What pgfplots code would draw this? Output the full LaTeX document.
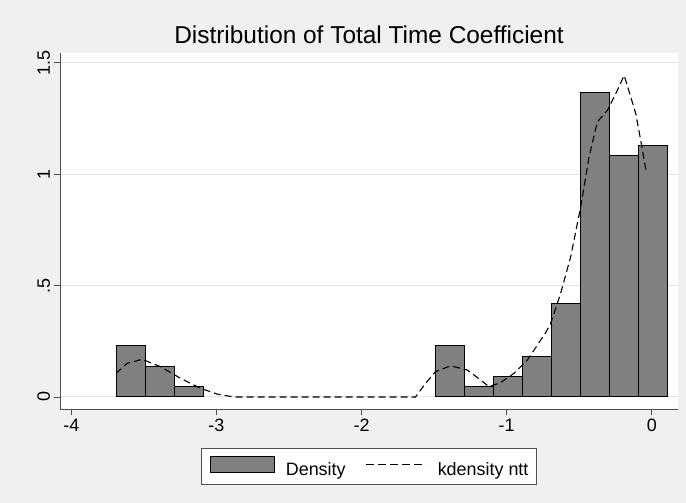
\documentclass[border=0pt]{standalone}
\usepackage{fontspec}
\setmainfont{Liberation Sans}
\usepackage{pgfplots}
\pgfplotsset{compat=1.18}
\definecolor{bgc}{RGB}{240,240,240}
\definecolor{barfill}{RGB}{128,128,128}
\definecolor{gridc}{RGB}{228,228,228}
\definecolor{axisc}{RGB}{80,80,80}
\begin{document}
\begin{tikzpicture}[x=1bp,y=1bp]
\useasboundingbox (0,0) rectangle (686,503);
\fill[bgc] (0,0) rectangle (686,503);
\node[anchor=base, font=\fontsize{24.5}{28}\selectfont] at (369,459.7) {Distribution of Total Time Coefficient};
\begin{axis}[
  at={(60bp,94bp)}, anchor=south west,
  scale only axis, width=618.3bp, height=356.3bp,
  xmin=-4.078, xmax=0.183, ymin=-0.054, ymax=1.546,
  axis x line*=bottom, axis y line*=left,
  axis line style={axisc, line width=0.9bp, -},
  axis background/.style={fill=white},
  xtick={-4,-3,-2,-1,0}, xticklabels={-4,-3,-2,-1,0},
  ytick={0,0.5,1,1.5}, yticklabels={0,.5,1,1.5},
  tick align=outside, major tick length=6.5bp,
  tick style={axisc, line width=0.9bp},
  ticklabel style={font=\fontsize{18}{20}\selectfont},
  yticklabel style={rotate=90, anchor=south},
  ymajorgrids, major grid style={gridc, line width=1bp},
  legend columns=2,
  legend cell align=left,
  legend style={at={(0.5,-0.1103)}, anchor=north, draw=axisc, fill=white,
    line width=0.8bp, inner xsep=8bp, inner ysep=7bp,
    font=\fontsize{18}{20}\selectfont,
    nodes={inner sep=0pt},
    /tikz/every odd column/.append style={column sep=11bp},
    /tikz/column 2/.style={column sep=20bp},
    /tikz/column 3/.style={column sep=23bp}},
]
\addplot[ybar interval, fill=barfill, draw=black, line width=1bp,
  legend image code/.code={\draw[fill=barfill, draw=black, line width=1bp] (0bp,-2bp) rectangle (64bp,14bp);}]
  coordinates {(-3.69,0.229) (-3.49,0.137) (-3.29,0.045) (-3.09,0)};
\addlegendentry{Density}
\addplot[ybar interval, fill=barfill, draw=black, line width=1bp, forget plot]
  coordinates {(-1.49,0.229) (-1.29,0.045) (-1.09,0.091) (-0.89,0.183) (-0.69,0.418) (-0.49,1.365) (-0.29,1.083) (-0.09,1.128) (0.11,0)};
\addplot[black, line width=1.1bp, dash pattern=on 7bp off 4bp, mark=none,
  legend image code/.code={\draw[black, line width=1.1bp, dash pattern=on 8bp off 4bp] (0bp,6bp) -- (60bp,6bp);}]
  coordinates {
  (-3.692,0.106) (-3.616,0.151) (-3.512,0.169) (-3.386,0.136) (-3.248,0.084)
  (-3.110,0.039) (-2.995,0.013) (-2.880,0.000) (-1.628,0.000) (-1.559,0.061)
  (-1.490,0.114) (-1.386,0.140) (-1.271,0.121) (-1.179,0.076) (-1.122,0.046)
  (-1.041,0.065) (-0.950,0.106) (-0.857,0.166) (-0.730,0.290) (-0.697,0.330)
  (-0.628,0.465) (-0.559,0.629) (-0.490,0.853) (-0.432,1.078) (-0.375,1.235)
  (-0.306,1.287) (-0.248,1.362) (-0.190,1.444) (-0.110,1.272) (-0.076,1.152)
  (-0.037,1.006)};
\addlegendentry{kdensity ntt}
\end{axis}
\end{tikzpicture}
\end{document}
